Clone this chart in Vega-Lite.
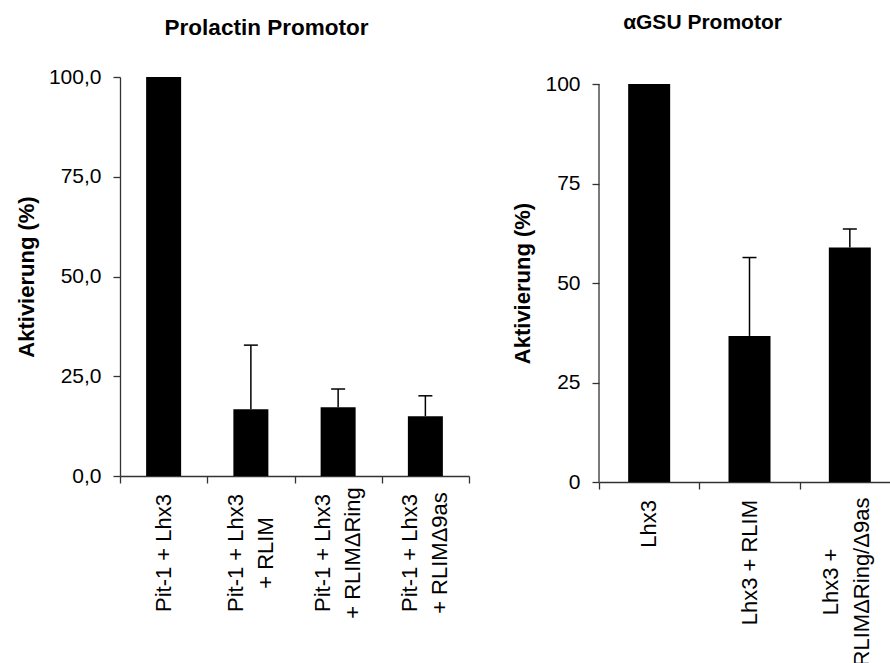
{
  "$schema": "https://vega.github.io/schema/vega-lite/v6.json",
  "padding": {"left": 15, "top": 11, "right": 0, "bottom": 0},
  "autosize": {"type": "pad"},
  "background": "white",
  "config": {
    "font": "Liberation Sans",
    "view": {"stroke": null},
    "axis": {
      "domainColor": "#333333",
      "tickColor": "#333333",
      "labelColor": "#000000",
      "titleColor": "#000000",
      "grid": false,
      "labelFont": "Liberation Sans",
      "titleFont": "Liberation Sans",
      "tickSize": 7,
      "domainWidth": 1.3,
      "tickWidth": 1.3,
      "labelOverlap": false,
      "labelFlush": false,
      "labelLimit": 0
    },
    "title": {"font": "Liberation Sans", "fontWeight": "bold", "color": "#000000"}
  },
  "spacing": 41,
  "hconcat": [
    {
      "width": 349,
      "height": 399,
      "title": {"text": "Prolactin Promotor", "fontSize": 22.5, "offset": 27, "frame": "group", "dx": -28},
      "data": {
        "values": [
          {"group": "Pit-1 + Lhx3", "value": 100, "upper": null},
          {"group": "Pit-1 + Lhx3\n+ RLIM", "value": 16.7, "upper": 32.8},
          {"group": "Pit-1 + Lhx3\n+ RLIMΔRing", "value": 17.2, "upper": 21.8},
          {"group": "Pit-1 + Lhx3\n+ RLIMΔ9as", "value": 15.0, "upper": 20.1}
        ]
      },
      "encoding": {
        "x": {
          "field": "group",
          "type": "nominal",
          "sort": null,
          "scale": {"paddingInner": 0, "paddingOuter": 0},
          "axis": {
            "title": null,
            "labels": false,
            "tickBand": "extent"
          }
        }
      },
      "layer": [
        {
          "mark": {"type": "bar", "size": 35, "color": "#000000"},
          "encoding": {
            "y": {
              "field": "value",
              "type": "quantitative",
              "scale": {"domain": [0, 100], "nice": false, "zero": true},
              "axis": {
                "title": "Aktivierung (%)",
                "titleFontSize": 22,
                "titleFontWeight": "bold",
                "titleAngle": -90,
                "titleX": -94,
                "titleY": 199.5,
                "titleAlign": "center",
                "titleBaseline": "middle",
                "values": [0, 25, 50, 75, 100],
                "labelExpr": "replace(format(datum.value, '.1f'), '.', ',')",
                "labelFontSize": 21,
                "labelPadding": 12
              }
            }
          }
        },
        {
          "transform": [{"filter": "datum.upper != null"}],
          "mark": {"type": "rule", "color": "#000000", "strokeWidth": 1.5},
          "encoding": {
            "y": {"field": "value", "type": "quantitative"},
            "y2": {"field": "upper"}
          }
        },
        {
          "transform": [{"filter": "datum.upper != null"}],
          "mark": {"type": "tick", "color": "#000000", "size": 14, "thickness": 1.5, "opacity": 1},
          "encoding": {
            "y": {"field": "upper", "type": "quantitative"}
          }
        },
        {
          "transform": [{"filter": "indexof(datum.group, '\\n') < 0"}],
          "mark": {"type": "text", "angle": 270, "align": "center", "baseline": "middle", "fontSize": 22, "font": "Liberation Sans", "color": "#000000", "dx": -77},
          "encoding": {
            "text": {"field": "group"},
            "y": {"datum": 0, "type": "quantitative"}
          }
        },
        {
          "transform": [{"filter": "indexof(datum.group, '\\n') >= 0"}],
          "mark": {"type": "text", "angle": 270, "align": "center", "baseline": "middle", "fontSize": 22, "font": "Liberation Sans", "color": "#000000", "lineBreak": "\n", "lineHeight": 30, "dx": -77, "dy": -15},
          "encoding": {
            "text": {"field": "group"},
            "y": {"datum": 0, "type": "quantitative"}
          }
        }
      ]
    },
    {
      "width": 301,
      "height": 405,
      "title": {"text": "αGSU Promotor", "fontSize": 21, "offset": 40.5, "frame": "group", "dx": -47},
      "data": {
        "values": [
          {"group": "Lhx3", "value": 100, "upper": null},
          {"group": "Lhx3 + RLIM", "value": 36.7, "upper": 56.4},
          {"group": "Lhx3 +\nRLIMΔRing/Δ9as", "value": 58.9, "upper": 63.6}
        ]
      },
      "encoding": {
        "x": {
          "field": "group",
          "type": "nominal",
          "sort": null,
          "scale": {"paddingInner": 0, "paddingOuter": 0},
          "axis": {
            "title": null,
            "labels": false,
            "tickBand": "extent"
          }
        }
      },
      "layer": [
        {
          "mark": {"type": "bar", "size": 42, "color": "#000000"},
          "encoding": {
            "y": {
              "field": "value",
              "type": "quantitative",
              "scale": {"domain": [0, 101.76], "nice": false, "zero": true},
              "axis": {
                "title": "Aktivierung (%)",
                "titleFontSize": 22,
                "titleFontWeight": "bold",
                "titleAngle": -90,
                "titleX": -77,
                "titleY": 206,
                "titleAlign": "center",
                "titleBaseline": "middle",
                "values": [0, 25, 50, 75, 100],
                "domain": false,
                "labelFontSize": 21,
                "labelPadding": 12
              }
            }
          }
        },
        {
          "transform": [{"filter": "datum.group == 'Lhx3'"}],
          "mark": {"type": "rule", "color": "#333333", "strokeWidth": 1.3},
          "encoding": {
            "x": {"field": "group", "type": "nominal", "sort": null, "bandPosition": 0},
            "y": {"datum": 0, "type": "quantitative"},
            "y2": {"datum": 100}
          }
        },
        {
          "transform": [{"filter": "datum.upper != null"}],
          "mark": {"type": "rule", "color": "#000000", "strokeWidth": 1.5},
          "encoding": {
            "y": {"field": "value", "type": "quantitative"},
            "y2": {"field": "upper"}
          }
        },
        {
          "transform": [{"filter": "datum.upper != null"}],
          "mark": {"type": "tick", "color": "#000000", "size": 14, "thickness": 1.5, "opacity": 1},
          "encoding": {
            "y": {"field": "upper", "type": "quantitative"}
          }
        },
        {
          "transform": [{"filter": "indexof(datum.group, '\\n') < 0"}],
          "mark": {"type": "text", "angle": 270, "align": "right", "baseline": "middle", "fontSize": 22, "font": "Liberation Sans", "color": "#000000", "dx": -18},
          "encoding": {
            "text": {"field": "group"},
            "y": {"datum": 0, "type": "quantitative"}
          }
        },
        {
          "transform": [{"filter": "indexof(datum.group, '\\n') >= 0"}],
          "mark": {"type": "text", "angle": 270, "align": "center", "baseline": "middle", "fontSize": 22, "font": "Liberation Sans", "color": "#000000", "lineBreak": "\n", "lineHeight": 31, "dx": -100, "dy": -19},
          "encoding": {
            "text": {"field": "group"},
            "y": {"datum": 0, "type": "quantitative"}
          }
        }
      ]
    }
  ]
}
